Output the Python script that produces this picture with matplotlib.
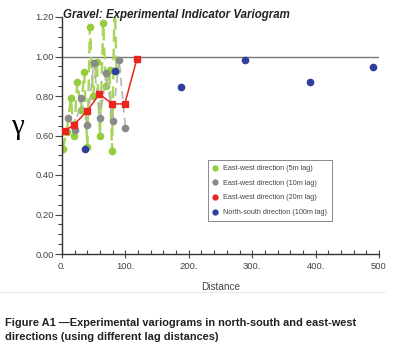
import matplotlib
matplotlib.use("Agg")
import matplotlib.pyplot as plt
from matplotlib.ticker import MultipleLocator, FixedLocator
from matplotlib.lines import Line2D

# Data
ew5_x = [1, 7.5, 14, 19, 24, 30, 35, 40, 44, 49, 55, 60, 65, 69, 75, 79, 83, 86]
ew5_y = [0.53, 0.62, 0.79, 0.60, 0.87, 0.73, 0.92, 0.54, 1.15, 0.80, 0.97, 0.60, 1.17, 0.85, 0.93, 0.52, 1.30, 0.93]
ew10_x = [10, 20, 30, 40, 50, 60, 70, 80, 90, 100]
ew10_y = [0.69, 0.63, 0.79, 0.655, 0.965, 0.69, 0.915, 0.675, 0.98, 0.64]
ew20_x = [5, 19, 40, 59, 79, 99, 118]
ew20_y = [0.625, 0.655, 0.725, 0.81, 0.76, 0.76, 0.985]
ns100_x = [37, 84, 187, 289, 391, 491]
ns100_y = [0.53, 0.925, 0.845, 0.98, 0.87, 0.945]
x_ticks = [0, 100, 200, 300, 400, 500]
x_tick_labels = ["0.", "100.", "200.", "300.", "400.", "500"]
y_ticks = [0.0, 0.2, 0.4, 0.6, 0.8, 1.0, 1.2]
y_tick_labels = ["0.00", "0.20", "0.40", "0.60", "0.80", "1.00", "1.20"]
legend_labels = ["East-west direction (5m lag)", "East-west direction (10m lag)",
                 "East-west direction (20m lag)", "North-south direction (100m lag)"]
title = "Gravel: Experimental Indicator Variogram"
caption = ("Figure A1 \u2014Experimental variograms in north-south and east-west\n"
           "directions (using different lag distances)")

c_green = "#94cc3e"
c_gray = "#8a8a8a"
c_red = "#e8261f"
c_blue = "#2e3f9e"

fig = plt.figure(figsize=(3.94, 3.56), dpi=100)
ax = fig.add_axes([62/394, 1-254/356, (379-62)/394, (254-17)/356])
ax.set_xlim(0, 500)
ax.set_ylim(0, 1.2)

ax.axhline(1.0, color="#777777", lw=1.0, zorder=1)

ax.plot(ew5_x, ew5_y, color="#a8d45a", lw=1.7, ls=(0, (5, 3)), marker="o", ms=4.5,
        mec=c_green, mfc=c_green, zorder=2)
ax.plot(ew10_x, ew10_y, color="#b5b5b5", lw=1.2, ls=(0, (5, 3)), marker="o", ms=4.5,
        mec=c_gray, mfc=c_gray, zorder=3)
ax.plot(ew20_x, ew20_y, color=c_red, lw=1.1, marker="s", ms=4.2,
        mec=c_red, mfc=c_red, zorder=4)
ax.plot(ns100_x, ns100_y, ls="none", marker="o", ms=4.5,
        mec=c_blue, mfc=c_blue, zorder=5)

for s in ["top", "right"]:
    ax.spines[s].set_visible(False)
for s in ["left", "bottom"]:
    ax.spines[s].set_color("#333333")
    ax.spines[s].set_linewidth(1.0)

ax.xaxis.set_major_locator(FixedLocator(x_ticks))
ax.set_xticklabels(x_tick_labels)
ax.xaxis.set_minor_locator(MultipleLocator(20))
ax.yaxis.set_major_locator(FixedLocator(y_ticks))
ax.set_yticklabels(y_tick_labels)
ax.yaxis.set_minor_locator(MultipleLocator(0.05))

ax.tick_params(axis="x", which="major", direction="inout", length=6, width=0.8,
               labelsize=6.8, colors="#444444", pad=3)
ax.tick_params(axis="x", which="minor", direction="in", length=3, width=0.8, colors="#444444")
ax.tick_params(axis="y", which="major", direction="out", length=5, width=0.8,
               labelsize=6.8, colors="#444444", pad=1)
ax.tick_params(axis="y", which="minor", direction="out", length=3, width=0.8, colors="#444444")
for lab in ax.get_xticklabels() + ax.get_yticklabels():
    lab.set_family("Liberation Sans")

ax.set_xlabel("Distance", fontsize=7.2, color="#444444", labelpad=8,
              family="Liberation Sans")
fig.text(17/394, 1-127/356, "\u03b3", fontsize=21, family="Liberation Serif",
         ha="center", va="center")

fig.text(63/394, 1-15/356, title, fontsize=8.3, fontweight="bold", fontstyle="italic",
         family="Liberation Sans", ha="left", va="center", color="#222222")

colors = [c_green, c_gray, c_red, c_blue]
handles = [Line2D([], [], ls="none", marker="o", ms=3.5, mfc=c, mec=c) for c in colors]
leg = ax.legend(handles, legend_labels, loc="upper left",
                bbox_to_anchor=((208-62)/317, (254-160)/237),
                prop={"family": "Liberation Sans", "size": 5.2},
                frameon=True, fancybox=False, edgecolor="#555555",
                handlelength=0.6, handletextpad=0.8, borderpad=0.7, labelspacing=1.05,
                borderaxespad=0)
leg.get_frame().set_linewidth(0.6)
for t in leg.get_texts():
    t.set_color("#444444")

fig.add_artist(Line2D([0, 385/394], [1-292/356, 1-292/356], color="#ececec", lw=0.8))
fig.text(5/394, 1-330/356, caption, fontsize=7.9, fontweight="bold",
         family="Liberation Sans", ha="left", va="center", linespacing=1.45,
         color="#222222")

fig.savefig("out.png", dpi=100)
